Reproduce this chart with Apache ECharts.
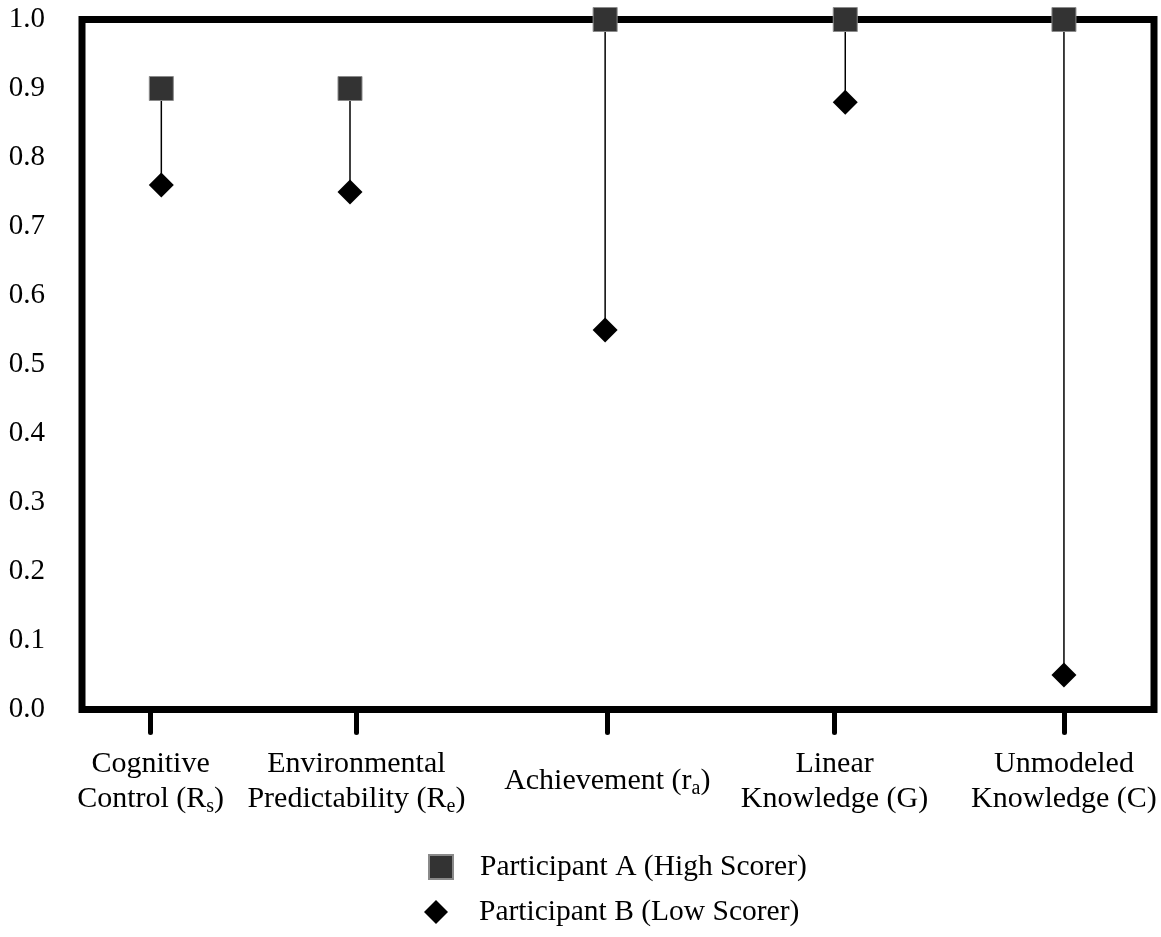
<!DOCTYPE html>
<html>
<head>
<meta charset="utf-8">
<script src="https://cdn.jsdelivr.net/npm/echarts@6/dist/echarts.min.js"></script>
<style>
html,body{margin:0;padding:0;background:#fff;}
#chart{width:1161px;height:937px;}
</style>
</head>
<body>
<div id="chart"></div>
<script>
// Category labels (underscore marks a subscript letter)
const categories = [
  'Cognitive\nControl (R_s)',
  'Environmental\nPredictability (R_e)',
  'Achievement (r_a)',
  'Linear\nKnowledge (G)',
  'Unmodeled\nKnowledge (C)'
];
// Horizontal placement of each category on a 0-100 axis (unevenly spaced in the original)
const markerPositions = [7.4, 25.0, 48.8, 71.2, 91.6];
const tickPositions = [6.4, 25.6, 49.0, 70.2, 91.6];
// Series values
const participantA = [0.90, 0.90, 1.00, 1.00, 1.00];
const participantB = [0.76, 0.75, 0.55, 0.88, 0.05];
// Y tick labels
const yTicks = [0.0, 0.1, 0.2, 0.3, 0.4, 0.5, 0.6, 0.7, 0.8, 0.9, 1.0];
// Series names
const seriesNames = ['Participant A (High Scorer)', 'Participant B (Low Scorer)'];

const FONT = 'Liberation Serif';

function richLabel(text) {
  return text.split('\n').map(function (line) {
    return '{n|' + line.replace(/_(\w)/g, '}{sub|$1}{n|') + '}';
  }).join('\n');
}

function legendFor(name, left, top, textGap) {
  return {
    orient: 'vertical',
    left: left,
    top: top,
    padding: 0,
    itemWidth: 24,
    itemHeight: 24,
    textStyle: {
      fontFamily: FONT, fontSize: 29.5, color: '#000', lineHeight: 24,
      padding: [2, 0, 0, textGap]
    },
    data: [name]
  };
}

const chart = echarts.init(document.getElementById('chart'), null, {renderer: 'canvas'});

const option = {
  animation: false,
  backgroundColor: '#fff',
  grid: {
    left: 82, top: 19.5, right: 7, bottom: 227.5,
    show: true, borderColor: '#000', borderWidth: 7, backgroundColor: 'transparent'
  },
  legend: [
    legendFor(seriesNames[0], 428, 852, 22),
    legendFor(seriesNames[1], 424, 897, 26)
  ],
  xAxis: {
    type: 'value',
    min: 0,
    max: 100,
    axisLine: {show: false},
    splitLine: {show: false},
    axisTick: {
      show: true,
      customValues: tickPositions,
      length: 23,
      lineStyle: {color: '#000', width: 5, cap: 'round'}
    },
    axisLabel: {
      show: true,
      customValues: tickPositions,
      margin: 72,
      verticalAlign: 'middle',
      formatter: function (v) {
        let i = tickPositions.indexOf(v);
        if (i < 0) {
          let best = 0;
          tickPositions.forEach(function (t, k) {
            if (Math.abs(t - v) < Math.abs(tickPositions[best] - v)) best = k;
          });
          i = best;
        }
        return richLabel(categories[i]);
      },
      rich: {
        n: {fontFamily: FONT, fontSize: 30, color: '#000', lineHeight: 35},
        sub: {fontFamily: FONT, fontSize: 20, color: '#000', lineHeight: 18, verticalAlign: 'bottom'}
      }
    }
  },
  yAxis: {
    type: 'value',
    min: 0,
    max: 1,
    interval: 0.1,
    axisLine: {show: false},
    axisTick: {show: false},
    splitLine: {show: false},
    axisLabel: {
      margin: 37,
      fontFamily: FONT,
      fontSize: 29,
      color: '#000',
      formatter: function (v) {
        const t = yTicks.find(function (y) { return Math.abs(y - v) < 1e-6; });
        return (t === undefined ? v : t).toFixed(1);
      }
    }
  },
  series: [
    {
      name: 'connectors',
      type: 'custom',
      silent: true,
      z: 1,
      clip: false,
      data: markerPositions.map(function (x, i) { return [x, participantA[i], participantB[i]]; }),
      renderItem: function (params, api) {
        const p1 = api.coord([api.value(0), api.value(1)]);
        const p2 = api.coord([api.value(0), api.value(2)]);
        return {
          type: 'line',
          shape: {x1: p1[0], y1: p1[1], x2: p2[0], y2: p2[1]},
          style: {stroke: '#000', lineWidth: 1.5}
        };
      }
    },
    {
      name: seriesNames[0],
      type: 'scatter',
      z: 3,
      clip: false,
      symbol: 'rect',
      symbolSize: 24,
      itemStyle: {color: '#333333', borderColor: '#8a8a8a', borderWidth: 1, opacity: 1},
      data: markerPositions.map(function (x, i) { return [x, participantA[i]]; })
    },
    {
      name: seriesNames[1],
      type: 'scatter',
      z: 3,
      clip: false,
      symbol: 'diamond',
      symbolSize: 25,
      itemStyle: {color: '#000000', opacity: 1},
      data: markerPositions.map(function (x, i) { return [x, participantB[i]]; })
    }
  ]
};

chart.setOption(option);
</script>
</body>
</html>
